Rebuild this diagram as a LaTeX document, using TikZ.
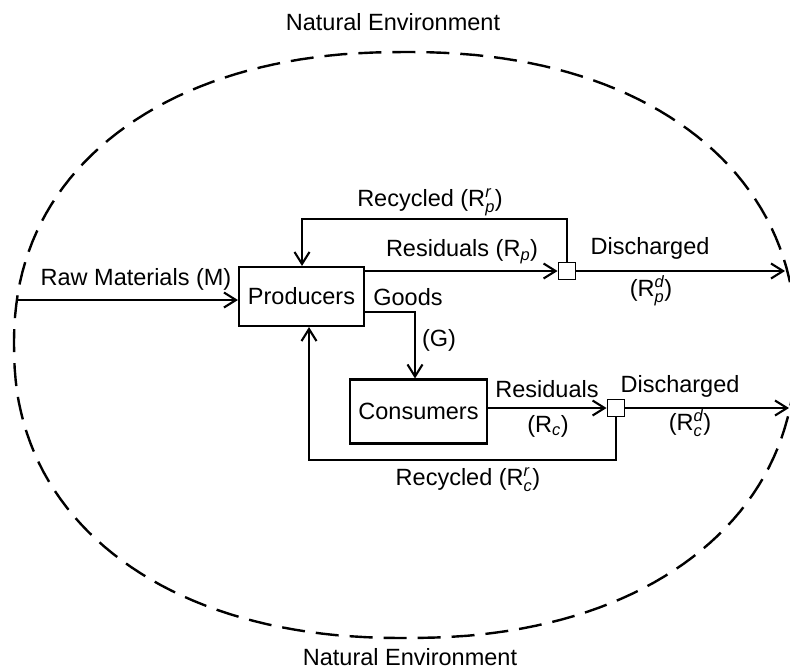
\documentclass[tikz,border=0pt]{standalone}
\usepackage{fontspec}
\usepackage{amsmath}
\setmainfont{Liberation Sans}
\usetikzlibrary{arrows.meta}
\newcommand{\Rsup}[2]{R$^{\textit{#1}}_{\textit{#2}}$}
\newcommand{\Rlow}[1]{R$_{\textit{#1}}$}
\begin{document}
\begin{tikzpicture}[x=1pt,y=-1pt,
  font=\fontsize{23.5}{27}\selectfont,
  line width=2.1pt,
  box/.style={draw, inner sep=0pt},
  jn/.style={draw, minimum size=17pt, inner sep=0pt, line width=1.9pt},
  flow/.style={-{Straight Barb[length=12pt,width=15pt]}},
  lbl/.style={inner sep=1pt}]
\useasboundingbox (0,0) rectangle (790,672);
% natural environment boundary
\draw[dash pattern=on 23pt off 11pt, line width=2.4pt]
  plot[domain=0.5:360.5, samples=181]
  ({405+391*sign(cos(\x))*abs(cos(\x))^(0.909)},
   {345+293*sign(sin(\x))*abs(sin(\x))^(0.909)}) -- cycle;
\node[lbl] (envtop) at (393,22) {Natural Environment};
\node[lbl] (envbot) at (410,657) {Natural Environment};
% boxes
\node[box, minimum width=125pt, minimum height=59pt] (prod) at (301.5,296.5) {Producers};
\node[box, minimum width=137pt, minimum height=64pt] (cons) at (418.5,411.5) {Consumers};
\node[jn] (j1) at (567,271) {};
\node[jn] (j2) at (616,408) {};
\coordinate (rawin) at (17,300);
\coordinate (d1end) at (785,271);
\coordinate (d2end) at (789,408);
% flows
\draw[flow] (rawin) -- (rawin -| prod.west);
\draw[flow] (prod.east |- j1) -- (j1.west);
\draw[flow] (j1.east) -- (d1end);
\draw[flow] (j1.north) |- (302,219) -- (302,219 |- prod.north);
\draw[flow] (prod.east |- 0,312) -| (cons.north -| 415,0);
\draw[flow] (cons.east |- j2) -- (j2.west);
\draw[flow] (j2.east) -- (d2end);
\draw[flow] (j2.south) |- (309,460) -- (309,460 |- prod.south);
% labels
\node[lbl] (lraw) at (136,279) {Raw Materials (M)};
\node[lbl] (lrecp) at (430,202) {Recycled (\Rsup{r}{p})};
\node[lbl] (lresp) at (462,252) {Residuals (\Rlow{p})};
\node[lbl] (lgoods) at (408,297) {Goods};
\node[lbl] (lg) at (439,340) {(G)};
\node[lbl] (ldisp) at (650,248) {Discharged};
\node[lbl] (ldispr) at (651,291) {(\Rsup{d}{p})};
\node[lbl] (lresc) at (547,389) {Residuals};
\node[lbl] (lrescr) at (548,426) {(\Rlow{c})};
\node[lbl] (ldisc) at (680,386) {Discharged};
\node[lbl] (ldiscr) at (690,423) {(\Rsup{d}{c})};
\node[lbl] (lrecc) at (468,480) {Recycled (\Rsup{r}{c})};
\end{tikzpicture}
\end{document}
